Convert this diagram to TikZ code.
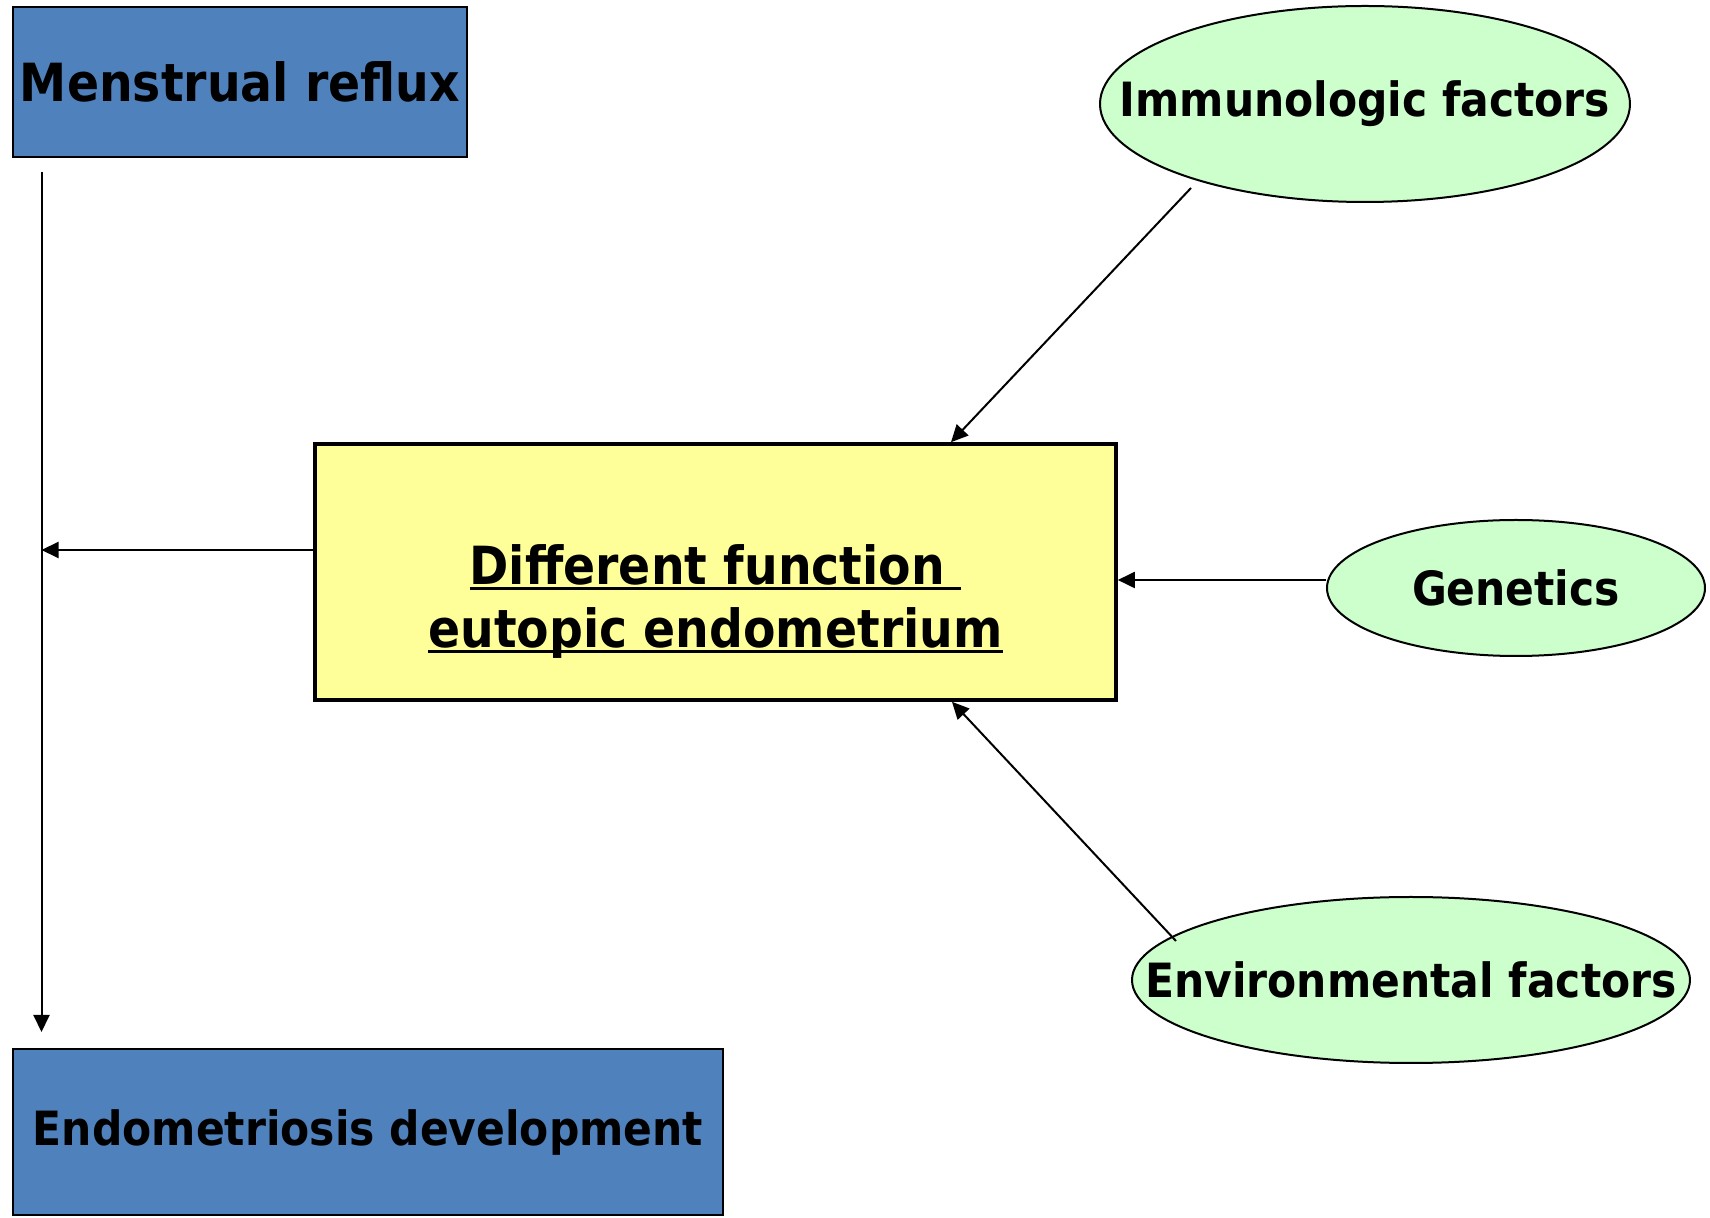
\documentclass[tikz,border=0pt]{standalone}
\usepackage{fontspec}
\setmainfont{DejaVu Sans Condensed}
\usetikzlibrary{shapes.geometric,arrows.meta}
\definecolor{boxblue}{HTML}{4F81BD}
\definecolor{boxyellow}{HTML}{FFFF99}
\definecolor{ovalgreen}{HTML}{CCFFCC}
\newcommand{\thickul}[1]{\leavevmode\vtop{\hbox{\raisebox{0pt}[\height][0pt]{#1}}\kern1.2pt\hrule height 1.4pt}}

\begin{document}
\begin{tikzpicture}[x=0.5pt,y=-0.5pt,
    bluebox/.style={draw=black,fill=boxblue,line width=1pt,inner sep=0pt},
    oval/.style={ellipse,draw=black,fill=ovalgreen,line width=1pt,inner sep=0pt},
    link/.style={line width=1pt,-{Triangle[length=8.5pt,width=8pt]}},
    big/.style={font=\bfseries\fontsize{26.3}{31.5}\selectfont},
    mid/.style={font=\bfseries\fontsize{23.6}{28}\selectfont}]
        \useasboundingbox (0,0) rectangle (1710,1218);
        \node[bluebox,big,minimum width=227pt,minimum height=75pt] (mr) at (240,82) {Menstrual reflux};
        \node[bluebox,mid,minimum width=355pt,minimum height=83pt] (ed) at (368,1132) {Endometriosis development};
        \node[draw=black,fill=boxyellow,line width=1.8pt,big,align=center,
              minimum width=400.5pt,minimum height=128pt] (diff) at (715.5,572)
              {\rule{0pt}{47pt}\thickul{Different function\ }\\\thickul{eutopic endometrium}};
        \node[oval,mid,minimum width=265pt,minimum height=98pt] (imm) at (1365,104) {\makebox[0pt]{Immunologic factors}};
        \node[oval,mid,minimum width=189pt,minimum height=68pt] (gen) at (1516,588) {\makebox[0pt]{Genetics}};
        \node[oval,mid,minimum width=279pt,minimum height=83pt] (env) at (1411,980) {\makebox[0pt]{Environmental factors}};
        % left side
        \coordinate (v1) at ([shift={(29.5,14)}]mr.south west);
        \coordinate (v2) at ([shift={(29.5,-16)}]ed.north west);
        \draw[link] (v1) -- (v2);
        \draw[link] ([shift={(0,-22)}]diff.west) coordinate (d1) -- (d1 -| v1);
        % factors
        \draw[link] ([shift={(-174,84)}]imm.center) -- ([shift={(235.5,0)}]diff.north);
        \draw[link] ([shift={(0,-8)}]gen.west) coordinate (g1) -- (g1 -| diff.east);
        \draw[link] ([shift={(-235,-39)}]env.center) -- ([shift={(236.5,0)}]diff.south);
\end{tikzpicture}
\end{document}
